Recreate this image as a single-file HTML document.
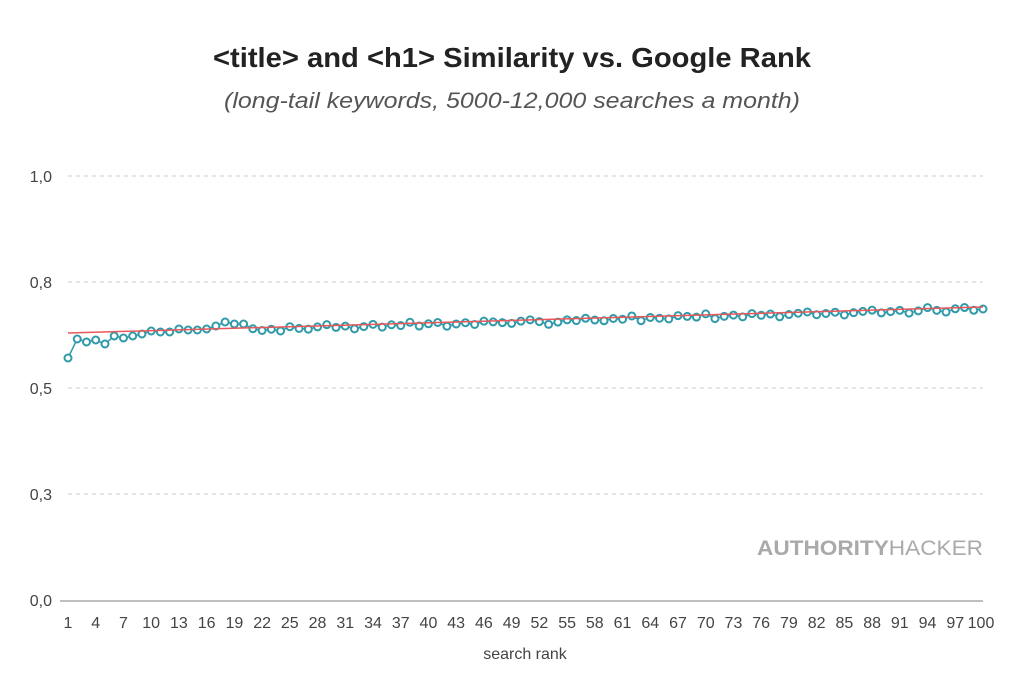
<!DOCTYPE html>
<html><head><meta charset="utf-8"><style>
body{margin:0;background:#fff;width:1024px;height:675px;overflow:hidden}
text{font-family:"Liberation Sans",sans-serif}
</style></head><body>
<svg id="s" width="1024" height="675" xmlns="http://www.w3.org/2000/svg">
<text x="213" y="67" textLength="598" lengthAdjust="spacingAndGlyphs" font-size="28" font-weight="bold" fill="#222">&lt;title&gt; and &lt;h1&gt; Similarity vs. Google Rank</text>
<text x="224" y="108" textLength="576" lengthAdjust="spacingAndGlyphs" font-size="22" font-style="italic" fill="#555">(long-tail keywords, 5000-12,000 searches a month)</text>
<g stroke="#ccc" stroke-dasharray="4,4" stroke-width="1">
<line x1="68" x2="983" y1="176" y2="176"/><line x1="68" x2="983" y1="282" y2="282"/>
<line x1="68" x2="983" y1="388" y2="388"/><line x1="68" x2="983" y1="494" y2="494"/>
</g>
<line x1="60" x2="983" y1="601" y2="601" stroke="#aaa" stroke-width="1.5"/>
<g font-size="16" fill="#444" text-anchor="end">
<text x="52" y="182">1,0</text><text x="52" y="288">0,8</text><text x="52" y="394">0,5</text><text x="52" y="500">0,3</text><text x="52" y="606">0,0</text>
</g>
<text x="525" y="659" text-anchor="middle" font-size="16" fill="#444">search rank</text>
<text x="757" y="555" textLength="226" lengthAdjust="spacingAndGlyphs" font-size="21" fill="#aaa"><tspan font-weight="bold">AUTHORITY</tspan>HACKER</text>
<g id="xl" font-size="16" fill="#444" text-anchor="middle"></g>
<polyline id="pl" fill="none" stroke="#2f9aaa" stroke-width="1.5"/>
<g id="pts" fill="#fff" stroke="#2f9aaa" stroke-width="2"></g>
<line x1="68" y1="333" x2="983" y2="307" stroke="#e8575a" stroke-width="1.5"/>
</svg>
<script>
var ns="http://www.w3.org/2000/svg";
var first=[358,339,342,340,344,336,338,336,334,331,332,332,329,330,330,329,326,322,324,324];
var noise=[0,2,1,3,-1,1,2,0,-2,1,0,3,1,-1,2,0,1,-2,2,0,-1,3,1,0,2,-1,0,1,2,0,-1,1,4,2,0,1,-1,1,2,0,1,-2,3,0,1,2,-1,0,1,-2,3,1,0,2,-1,1,0,3,1,0,-1,2,1,0,3,1,0,-1,2,1,0,3,1,-2,1,3,0,-1,2,1];
var pts=[],x;
for(var i=1;i<=100;i++){
 x=68+(i-1)*(915/99);
 var y;
 if(i<=20) y=first[i-1]; else {var t=333-26*(i-1)/99; y=t+1+noise[(i-21)%noise.length];}
 pts.push(x.toFixed(1)+","+y);
 var c=document.createElementNS(ns,"circle");c.setAttribute("cx",x);c.setAttribute("cy",y);c.setAttribute("r",3.5);
 document.getElementById("pts").appendChild(c);
 if((i-1)%3==0){var tx=document.createElementNS(ns,"text");tx.setAttribute("x",i==100?x-2:x);tx.setAttribute("y",628);tx.textContent=i;document.getElementById("xl").appendChild(tx);}
}
document.getElementById("pl").setAttribute("points",pts.join(" "));
</script>
</body></html>
